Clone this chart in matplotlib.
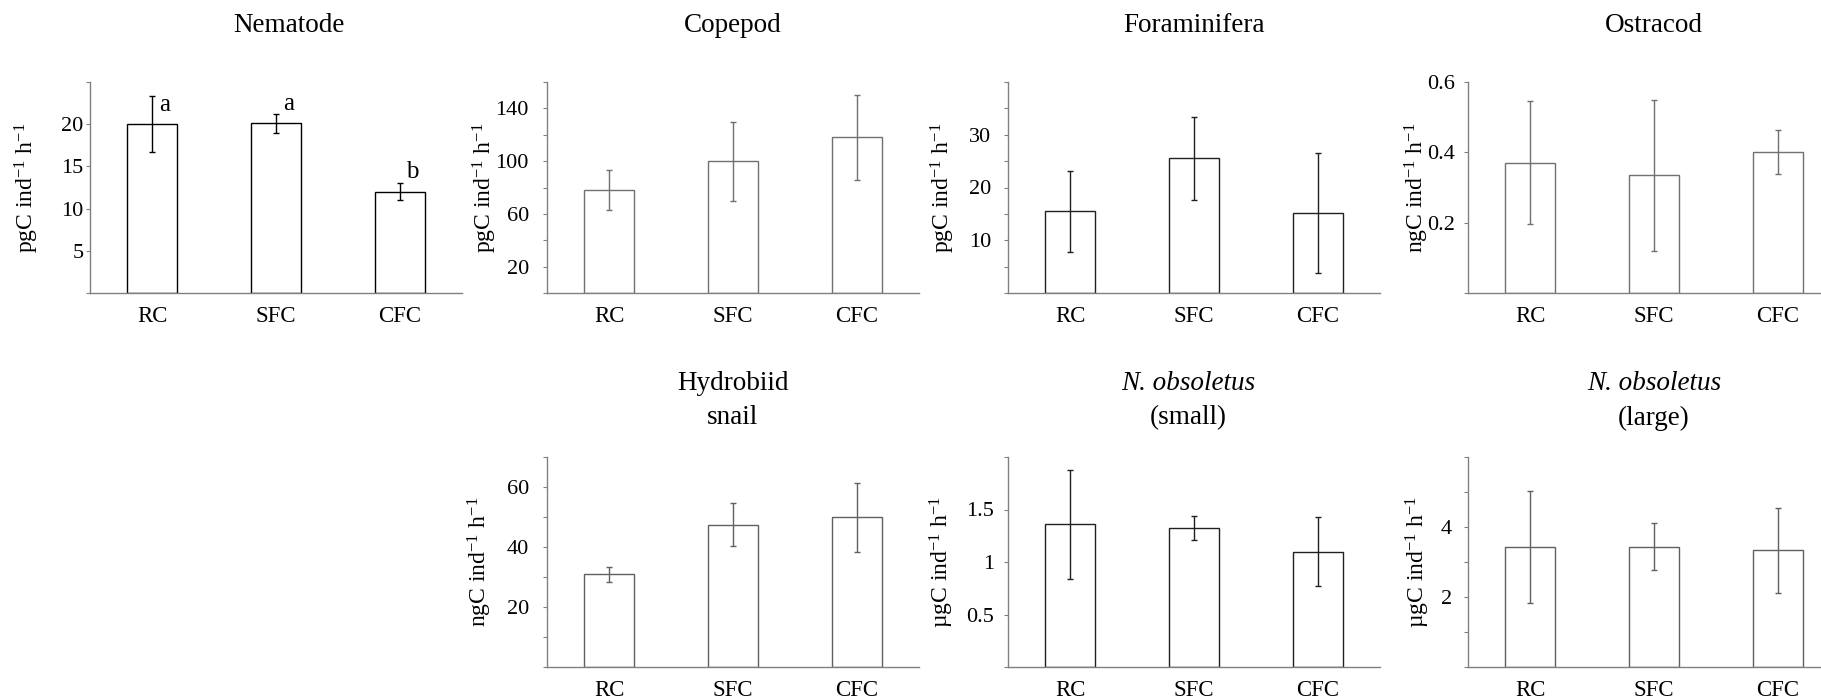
import numpy as np
import matplotlib
matplotlib.use('Agg')
import matplotlib.pyplot as plt

plt.rcParams['font.family'] = ['Liberation Serif', 'DejaVu Serif']
plt.rcParams['mathtext.fontset'] = 'custom'
plt.rcParams['mathtext.rm'] = 'Liberation Serif'
plt.rcParams['mathtext.it'] = 'Liberation Serif:italic'

categories = ['RC', 'SFC', 'CFC']

nematode = [20.0, 20.1, 12.0]
nematode_err = [3.3, 1.1, 1.0]
nematode_letters = ['a', 'a', 'b']

copepod = [78, 100, 118]
copepod_err = [15, 30, 32]

foram = [15.5, 25.5, 15.1]
foram_err = [7.7, 7.8, 11.4]

ostracod = [0.37, 0.335, 0.40]
ostracod_err = [0.175, 0.215, 0.063]

hydrobiid = [31, 47.5, 50]
hydrobiid_err = [2.5, 7.3, 11.5]

nobs_small = [1.36, 1.32, 1.10]
nobs_small_err = [0.52, 0.115, 0.33]

nobs_large = [3.43, 3.44, 3.33]
nobs_large_err = [1.6, 0.68, 1.22]

# panel setup: (values, errors, title lines, ylabel, ymax, tick step, labelled ticks)
panels = [
    (nematode, nematode_err, [('Nematode', 'normal')], 'pgC ind$^{-1}$ h$^{-1}$', 25, 5, [5, 10, 15, 20]),
    (copepod, copepod_err, [('Copepod', 'normal')], 'pgC ind$^{-1}$ h$^{-1}$', 160, 20, [20, 60, 100, 140]),
    (foram, foram_err, [('Foraminifera', 'normal')], 'pgC ind$^{-1}$ h$^{-1}$', 40, 5, [10, 20, 30]),
    (ostracod, ostracod_err, [('Ostracod', 'normal')], 'ngC ind$^{-1}$ h$^{-1}$', 0.6, 0.2, [0.2, 0.4, 0.6]),
    (hydrobiid, hydrobiid_err, [('Hydrobiid', 'normal'), ('snail', 'normal')], 'ngC ind$^{-1}$ h$^{-1}$', 70, 10, [20, 40, 60]),
    (nobs_small, nobs_small_err, [('N. obsoletus', 'italic'), ('(small)', 'normal')], 'µgC ind$^{-1}$ h$^{-1}$', 2, 0.5, [0.5, 1, 1.5]),
    (nobs_large, nobs_large_err, [('N. obsoletus', 'italic'), ('(large)', 'normal')], 'µgC ind$^{-1}$ h$^{-1}$', 6, 1, [2, 4]),
]

W, H = 1821, 699
# axes boxes in pixels: left, top, bottom
boxes = [(90, 82, 293), (547, 82, 293), (1008, 82, 293), (1468, 82, 293),
         (547, 457, 667), (1008, 457, 667), (1468, 457, 667)]
edge_colors = ['#000000', '#707070', '#202020', '#707070', '#606060', '#202020', '#606060']
ylab_dx = [63, 62, 65, 51, 67, 66, 50]
tick_pads = [1.5, 10, 9, 6, 10, 7, 8.5]
title_dx = [0.536, 0.5, 0.5, 0.5, 0.5, 0.485, 0.5]

fig = plt.figure(figsize=(W / 100, H / 100), dpi=100)

for i, (vals, errs, title, ylab, ymax, step, lab_ticks) in enumerate(panels):
    left, top, bottom = boxes[i]
    ax = fig.add_axes([left / W, 1 - bottom / H, 372 / W, (bottom - top) / H])
    x = np.arange(len(categories))
    ec = edge_colors[i]
    ax.bar(x, vals, width=0.4, color='white', edgecolor=ec, linewidth=1.0)
    ax.errorbar(x, vals, yerr=errs, fmt='none', ecolor=ec, elinewidth=1.0,
                capsize=2, capthick=1.0)
    ax.set_xlim(-0.5, 2.5)
    ax.set_ylim(0, ymax)
    ticks = np.round(np.arange(0, ymax + step / 2, step), 3)
    ax.set_yticks(ticks)
    ax.set_yticklabels([('%g' % t) if any(abs(t - l) < 1e-9 for l in lab_ticks) else '' for t in ticks])
    ax.set_xticks(x)
    ax.set_xticklabels(categories)
    for s in ['top', 'right']:
        ax.spines[s].set_visible(False)
    for s in ['left', 'bottom']:
        ax.spines[s].set_color('#808080')
        ax.spines[s].set_linewidth(1.0)
    ax.tick_params(axis='y', length=3, width=0.8, color='#808080', labelsize=16,
                   pad=tick_pads[i])
    ax.tick_params(axis='x', length=0, labelsize=16.5, pad=9)
    ax.text(-ylab_dx[i] / 372, 0.5, ylab, transform=ax.transAxes, rotation=90,
            ha='center', va='center', fontsize=17)
    hpx = bottom - top
    if len(title) == 1:
        ax.text(title_dx[i], (bottom - 25) / hpx, title[0][0], transform=ax.transAxes,
                ha='center', va='center', fontsize=19.5, style=title[0][1])
    else:
        for j, (t, st) in enumerate(title):
            yc = [383, 418][j]
            ax.text(title_dx[i], (bottom - yc) / hpx, t, transform=ax.transAxes,
                    ha='center', va='center', fontsize=19.5, style=st)
    if i == 0:
        for k, letter in enumerate(nematode_letters):
            ax.text(x[k] + 0.1, vals[k] + 2.3, letter, ha='center',
                    va='center', fontsize=18)

fig.savefig('out.png', dpi=100)
